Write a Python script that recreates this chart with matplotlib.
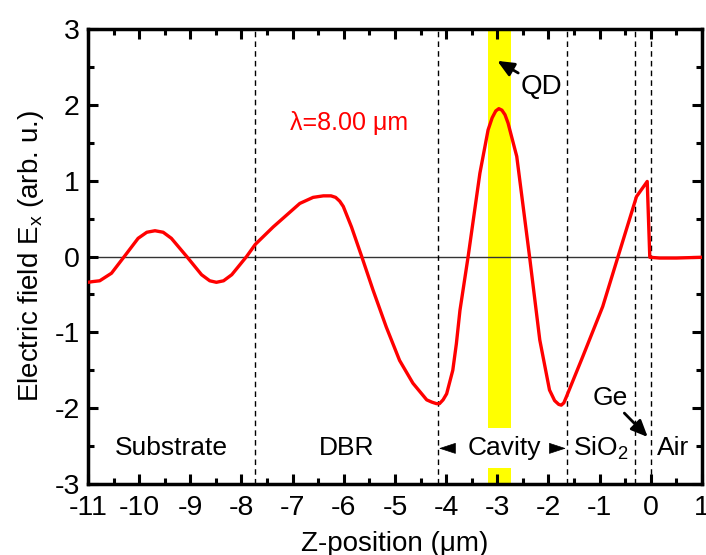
import matplotlib
matplotlib.use("Agg")
from matplotlib import pyplot as plt
from matplotlib.ticker import MultipleLocator

plt.rcParams['font.family'] = ['Liberation Sans', 'DejaVu Sans']
plt.rcParams['mathtext.fontset'] = 'custom'
plt.rcParams['mathtext.rm'] = 'Liberation Sans'
plt.rcParams['mathtext.it'] = 'Liberation Sans:italic'
plt.rcParams['axes.unicode_minus'] = False

# field profile
z = [-11.0, -10.9, -10.77, -10.54, -10.29, -10.02, -9.85, -9.69, -9.53, -9.37, -9.07,
     -8.78, -8.62, -8.49, -8.35, -8.19, -7.90, -7.73, -7.38, -6.86, -6.60, -6.40, -6.25,
     -6.16, -6.08, -6.01, -5.85, -5.65, -5.43, -5.17, -4.91, -4.65, -4.38, -4.28, -4.19,
     -4.13, -4.06, -3.99, -3.87, -3.80, -3.73, -3.57, -3.34, -3.18, -3.10, -3.03, -2.97,
     -2.91, -2.85, -2.79, -2.62, -2.37, -2.17, -1.98, -1.88, -1.80, -1.75, -1.70, -1.65,
     -1.33, -0.94, -0.64, -0.28, -0.07, -0.02, 0.17, 0.5, 1.0]
ex = [-0.34, -0.33, -0.32, -0.22, 0.0, 0.24, 0.32, 0.34, 0.32, 0.24, 0.0,
      -0.24, -0.32, -0.34, -0.32, -0.24, 0.0, 0.16, 0.39, 0.70, 0.78, 0.80, 0.80,
      0.78, 0.73, 0.66, 0.39, 0.0, -0.44, -0.93, -1.37, -1.67, -1.89, -1.92, -1.94,
      -1.94, -1.89, -1.81, -1.50, -1.15, -0.71, 0.0, 1.10, 1.67, 1.83, 1.92, 1.95,
      1.93, 1.87, 1.76, 1.32, 0.0, -1.10, -1.76, -1.90, -1.95, -1.96, -1.93, -1.85,
      -1.32, -0.66, 0.0, 0.79, 0.99, -0.01, -0.02, -0.02, -0.01]

boundaries = [-7.74, -4.16, -1.64, -0.30, 0.0]
qd_band = (-3.18, -2.73)
layers = ["Substrate", "DBR", "Cavity", "SiO$_2$", "Air"]
layer_x = [-9.37, -5.95, -2.86, -0.97, 0.44]

fig = plt.figure(figsize=(7.06, 5.55), dpi=100)
ax = fig.add_axes([0.1246, 0.1279, 0.8697, 0.8198])

ax.axvspan(qd_band[0], qd_band[1], color="#ffff00", lw=0, zorder=0)
ax.axhline(0, color="#333333", lw=1.0, zorder=1)
for b in boundaries:
    ax.axvline(b, color="black", lw=1.0, ls=(0, (4, 3)), zorder=1)

ax.plot(z, ex, color="red", lw=2.4, zorder=3)

for name, xc in zip(layers, layer_x):
    if name == "Cavity":
        ax.text(xc, -2.53, name, fontsize=19, ha="center", va="center", zorder=4,
                bbox=dict(boxstyle="square,pad=0.3", fc="white", ec="none"))
    else:
        ax.text(xc, -2.53, name, fontsize=19, ha="center", va="center", zorder=4)

# cavity edge markers
for tip, tail in [(-4.14, -3.93), (-1.66, -1.87)]:
    ax.annotate("", xy=(tip, -2.53), xytext=(tail, -2.53),
                arrowprops=dict(arrowstyle="-|>,head_length=0.55,head_width=0.18",
                                color="black", lw=0.5, shrinkA=0, shrinkB=0,
                                mutation_scale=20))

ax.annotate("QD", xy=(-3.0, 2.58), xytext=(-2.13, 2.24), fontsize=20,
            ha="center", va="center", zorder=5,
            arrowprops=dict(arrowstyle="-|>,head_length=0.5,head_width=0.22",
                            color="black", lw=2, shrinkA=0, shrinkB=0,
                            mutation_scale=20))
ax.annotate("Ge", xy=(-0.06, -2.38), xytext=(-0.80, -1.87), fontsize=19,
            ha="center", va="center", zorder=5,
            arrowprops=dict(arrowstyle="-|>,head_length=0.5,head_width=0.22",
                            color="black", lw=2, shrinkA=0, shrinkB=0,
                            mutation_scale=20))

ax.text(-7.05, 1.76, "λ=8.00 μm", color="red", fontsize=18, ha="left", va="center")

ax.set_xlim(-11, 1)
ax.set_ylim(-3, 3)
ax.xaxis.set_major_locator(MultipleLocator(1))
ax.xaxis.set_minor_locator(MultipleLocator(0.5))
ax.yaxis.set_major_locator(MultipleLocator(1))
ax.yaxis.set_minor_locator(MultipleLocator(0.5))
ax.tick_params(which="both", direction="in", top=True, right=True, labelsize=20.5)
ax.tick_params(axis="x", pad=8)
ax.tick_params(axis="y", pad=6)
ax.tick_params(which="major", length=7, width=2.2)
ax.tick_params(which="minor", length=4, width=2.2)
for s in ax.spines.values():
    s.set_linewidth(2.5)

ax.set_xlabel("Z-position (μm)", fontsize=20, labelpad=7)
ax.set_ylabel("Electric field $\\mathregular{E_x}$ (arb. u.)", fontsize=20, labelpad=6)

fig.savefig("out.png", dpi=100)
